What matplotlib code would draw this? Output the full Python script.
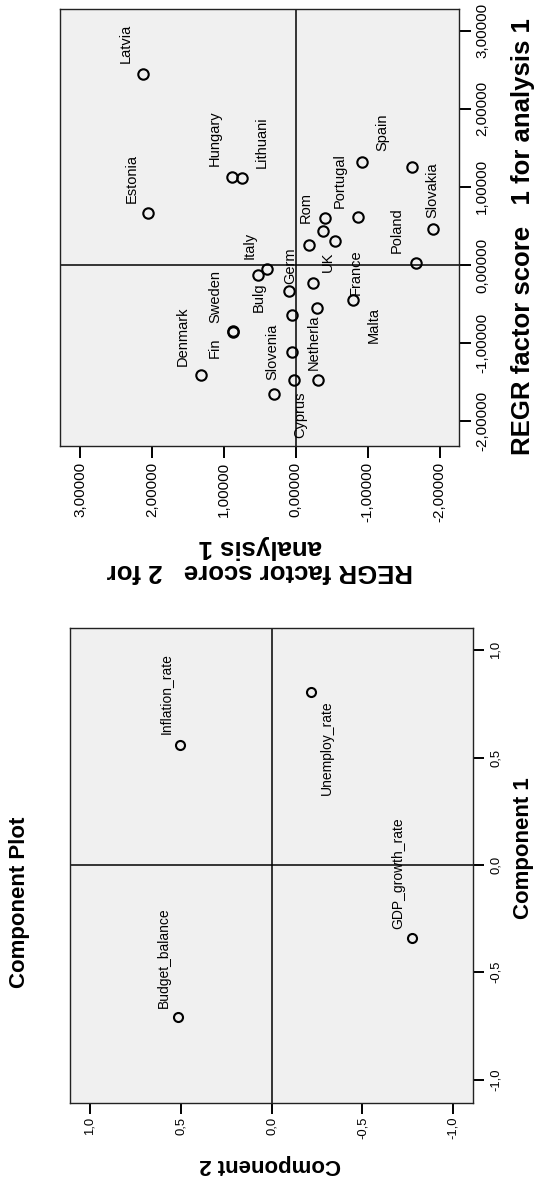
import matplotlib
matplotlib.use('Agg')
import matplotlib.pyplot as plt
from matplotlib.ticker import FuncFormatter


plt.rcParams['font.family'] = ['Liberation Sans', 'DejaVu Sans']

# --- REGR factor scores (27 countries, empty name = no label shown) ---
score_names = ['Latvia', 'Estonia', 'Hungary', 'Lithuani', 'Denmark', 'Sweden', 'Fin',
               'Slovenia', 'Bulg', 'Italy', 'Germ', '', '', 'Cyprus', 'Netherla', 'Malta',
               '', 'Rom', 'UK', '', '', 'France', 'Portugal', 'Spain', '', 'Slovakia', 'Poland']
score1 = [2.45, 0.66, 1.13, 1.11, -1.41, -0.86, -0.85,
          -1.65, -0.13, -0.055, -0.34, -0.64, -1.12, -1.47, -0.555, -1.48,
          -0.235, 0.256, 0.31, 0.60, 0.43, -0.45, 0.61, 1.32, 1.26, 0.46, 0.03]
score2 = [2.12, 2.05, 0.89, 0.75, 1.32, 0.88, 0.87,
          0.31, 0.52, 0.40, 0.09, 0.056, 0.056, 0.02, -0.29, -0.31,
          -0.245, -0.19, -0.55, -0.41, -0.385, -0.80, -0.86, -0.92, -1.62, -1.91, -1.675]
score_ticks = [-2, -1, 0, 1, 2, 3]

# --- component loadings ---
comp_names = ['Inflation_rate', 'Budget_balance', 'GDP_growth_rate', 'Unemploy_rate']
comp1 = [0.56, -0.707, -0.339, 0.807]
comp2 = [0.504, 0.516, -0.775, -0.217]
comp_ticks = [-1.0, -0.5, 0.0, 0.5, 1.0]

# label placement, pixel offsets from the point (layout only)
score_off = {'Latvia': (-18, 11), 'Estonia': (-17, 10), 'Hungary': (-17, 11),
             'Lithuani': (20, 10), 'Denmark': (-18, 9), 'Sweden': (-17, 9),
             'Fin': (-19, -27), 'Slovenia': (-1, 14), 'Bulg': (0, -37),
             'Italy': (-17, 10), 'Germ': (1, 7), 'Cyprus': (6, -58),
             'Netherla': (-3, -62), 'Malta': (56, 37), 'Rom': (-4, 22),
             'UK': (-7, -31), 'France': (2, 5), 'Portugal': (-18, 9),
             'Spain': (20, 11), 'Slovakia': (-1, 11), 'Poland': (-19, 10)}
comp_off = {'Inflation_rate': (-14, 11), 'Budget_balance': (-14, 9),
            'GDP_growth_rate': (-14, 9), 'Unemploy_rate': (16, -103)}

W, H = 535., 1182.


def box(l, t, r, b):
    # pixel box -> figure fraction
    return [l/W, 1 - b/H, (r - l)/W, (b - t)/H]


def comma(fmt):
    return FuncFormatter(lambda v, p: (fmt % v).replace('.', ','))


def panel(ax, xs, ys, names, offs, xlim, ylim, ticks, fmt, tsize, lsize, ms, tlen, pads):
	ax.set_facecolor('#f0f0f0')
	ax.axhline(0, color='black', lw=1.1, zorder=1)
	ax.axvline(0, color='black', lw=1.1, zorder=1)
	ax.plot(xs, ys, 'o', mfc='none', mec='black', mew=1.5, ms=ms, zorder=3)
	for x, y, n in zip(xs, ys, names):
		if n == '':
			continue
		ax.annotate(n, (x, y), xytext=offs[n], textcoords='offset pixels',
		            rotation=90, rotation_mode='anchor', ha='left', va='center',
		            fontsize=lsize, zorder=4)
	ax.set_xlim(xlim)
	ax.set_ylim(ylim)
	ax.set_xticks(ticks)
	ax.set_yticks(ticks)
	ax.xaxis.set_major_formatter(comma(fmt))
	ax.yaxis.set_major_formatter(comma(fmt))
	ax.yaxis.tick_right()
	ax.tick_params(direction='out', length=tlen, width=1.4, labelsize=tsize, colors='black')
	ax.tick_params(axis='x', labelrotation=90, pad=pads[0])
	ax.tick_params(axis='y', labelrotation=90, pad=pads[1])
	for t in ax.get_yticklabels():
		t.set_va('center')
	for s in ax.spines.values():
		s.set_linewidth(1.0)
		s.set_color('#222222')


fig = plt.figure(figsize=(W/100, H/100), dpi=100)

# top: factor scores (horizontal = score 2 reversed, vertical = score 1)
ax1 = fig.add_axes(box(60, 9, 459, 446))
panel(ax1, score2, score1, score_names, score_off, (3.28, -2.27), (-2.32, 3.28),
      score_ticks, '%.5f', 11, 10.5, 7.5, 8.6, (3, 3))
fig.text(523/W, 1 - 237/H, 'REGR factor score   1 for analysis 1', rotation=90,
         ha='center', va='center', fontsize=18.5, fontweight='bold')
fig.text(260/W, 1 - 559/H, 'REGR factor score   2 for\nanalysis 1', rotation=180,
         ha='center', va='center', fontsize=18.5, fontweight='bold', linespacing=1.0)

# bottom: component plot
ax2 = fig.add_axes(box(70, 627.7, 473.3, 1102.5))
panel(ax2, comp2, comp1, comp_names, comp_off, (1.11, -1.11), (-1.107, 1.105),
      comp_ticks, '%.1f', 9.4, 10, 6.5, 7.9, (2.5, 4))
fig.text(20/W, 1 - 902/H, 'Component Plot', rotation=90,
         ha='center', va='center', fontsize=16, fontweight='bold')
fig.text(523/W, 1 - 848/H, 'Component 1', rotation=90,
         ha='center', va='center', fontsize=16, fontweight='bold')
fig.text(270/W, 1 - 1165/H, 'Component 2', rotation=180,
         ha='center', va='center', fontsize=16, fontweight='bold')

fig.savefig('out.png', dpi=100)
